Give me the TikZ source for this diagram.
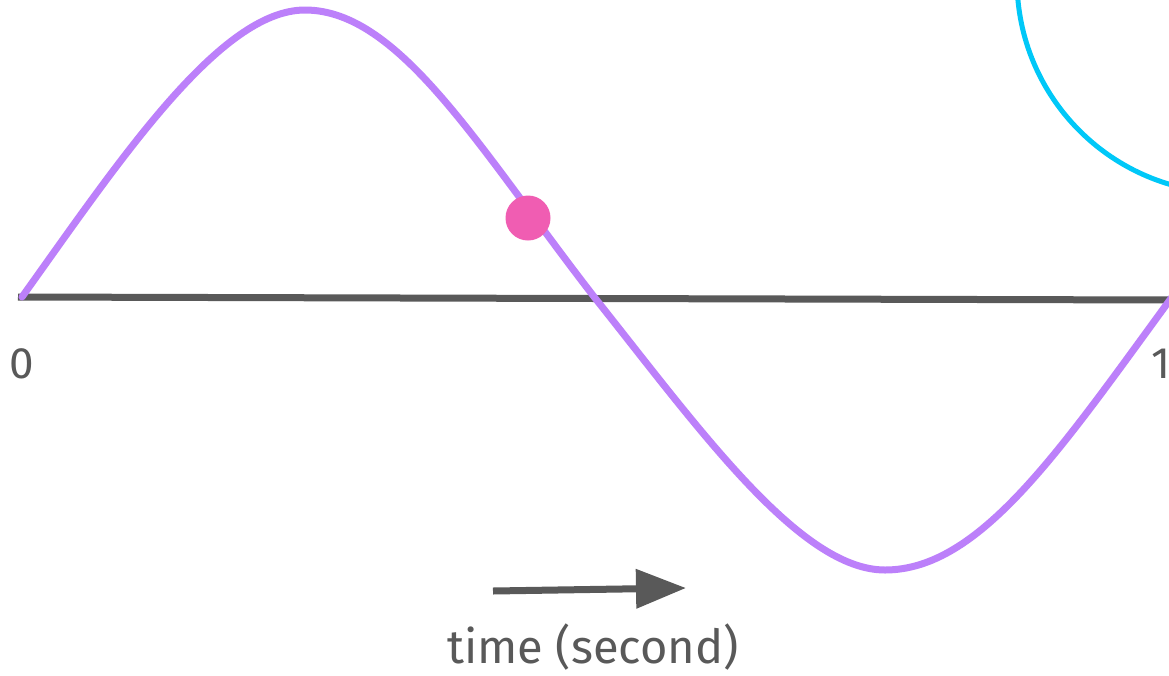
\documentclass[tikz,border=0pt]{standalone}
\usepackage{fontspec}
\setmainfont{Fira Sans}
\usetikzlibrary{arrows.meta}
\definecolor{axisgray}{HTML}{595959}
\definecolor{wave}{HTML}{BC80FA}
\definecolor{dotpink}{HTML}{F05DB2}
\definecolor{ringcyan}{HTML}{00C8F8}
\tikzset{
  axisline/.style={draw=axisgray, line width=7pt},
  waveline/.style={draw=wave, line width=7pt, line cap=round, line join=round},
  lbl/.style={text=axisgray, font=\fontsize{44}{50}\selectfont, inner sep=0pt},
  biglbl/.style={text=axisgray, font=\fontsize{47}{52}\selectfont, inner sep=0pt},
}
\begin{document}
\begin{tikzpicture}[x=1pt,y=-1pt]
\useasboundingbox (0,0) rectangle (1169,675);
\fill[white] (0,0) rectangle (1169,675);
% cyan circle (partially visible)
\draw[ringcyan, line width=5pt] (1230,-20) circle (213);
% axis
\coordinate (a0) at (18,297);
\coordinate (a1) at (1172,300);
\draw[axisline] (a0) -- (a1);
% wave
\coordinate (w0) at (22,297);
\coordinate (w1) at (305,10);
\coordinate (w2) at (595,298);
\coordinate (w3) at (885,570);
\coordinate (w4) at (1172,297);
\draw[waveline] (w0) .. controls (120,160) and (220,10) .. (w1)
  .. controls (400,10) and (480,150) .. (w2)
  .. controls (700,430) and (800,570) .. (w3)
  .. controls (980,570) and (1060,450) .. (w4);
% dot
\node[circle, fill=dotpink, minimum size=45pt, inner sep=0pt] (dot) at (528,218) {};
% labels
\node[lbl] (zero) at (22,364) {0};
\node[lbl, anchor=west] (one) at (1151,364) {1};
% arrow
\coordinate (t0) at (493,591);
\coordinate (t1) at (686,588);
\draw[axisgray, line width=7pt, -{Triangle[length=50pt,width=38pt]}] (t0) -- (t1);
\node[biglbl] (time) at (593,647) {time (second)};
\end{tikzpicture}
\end{document}
